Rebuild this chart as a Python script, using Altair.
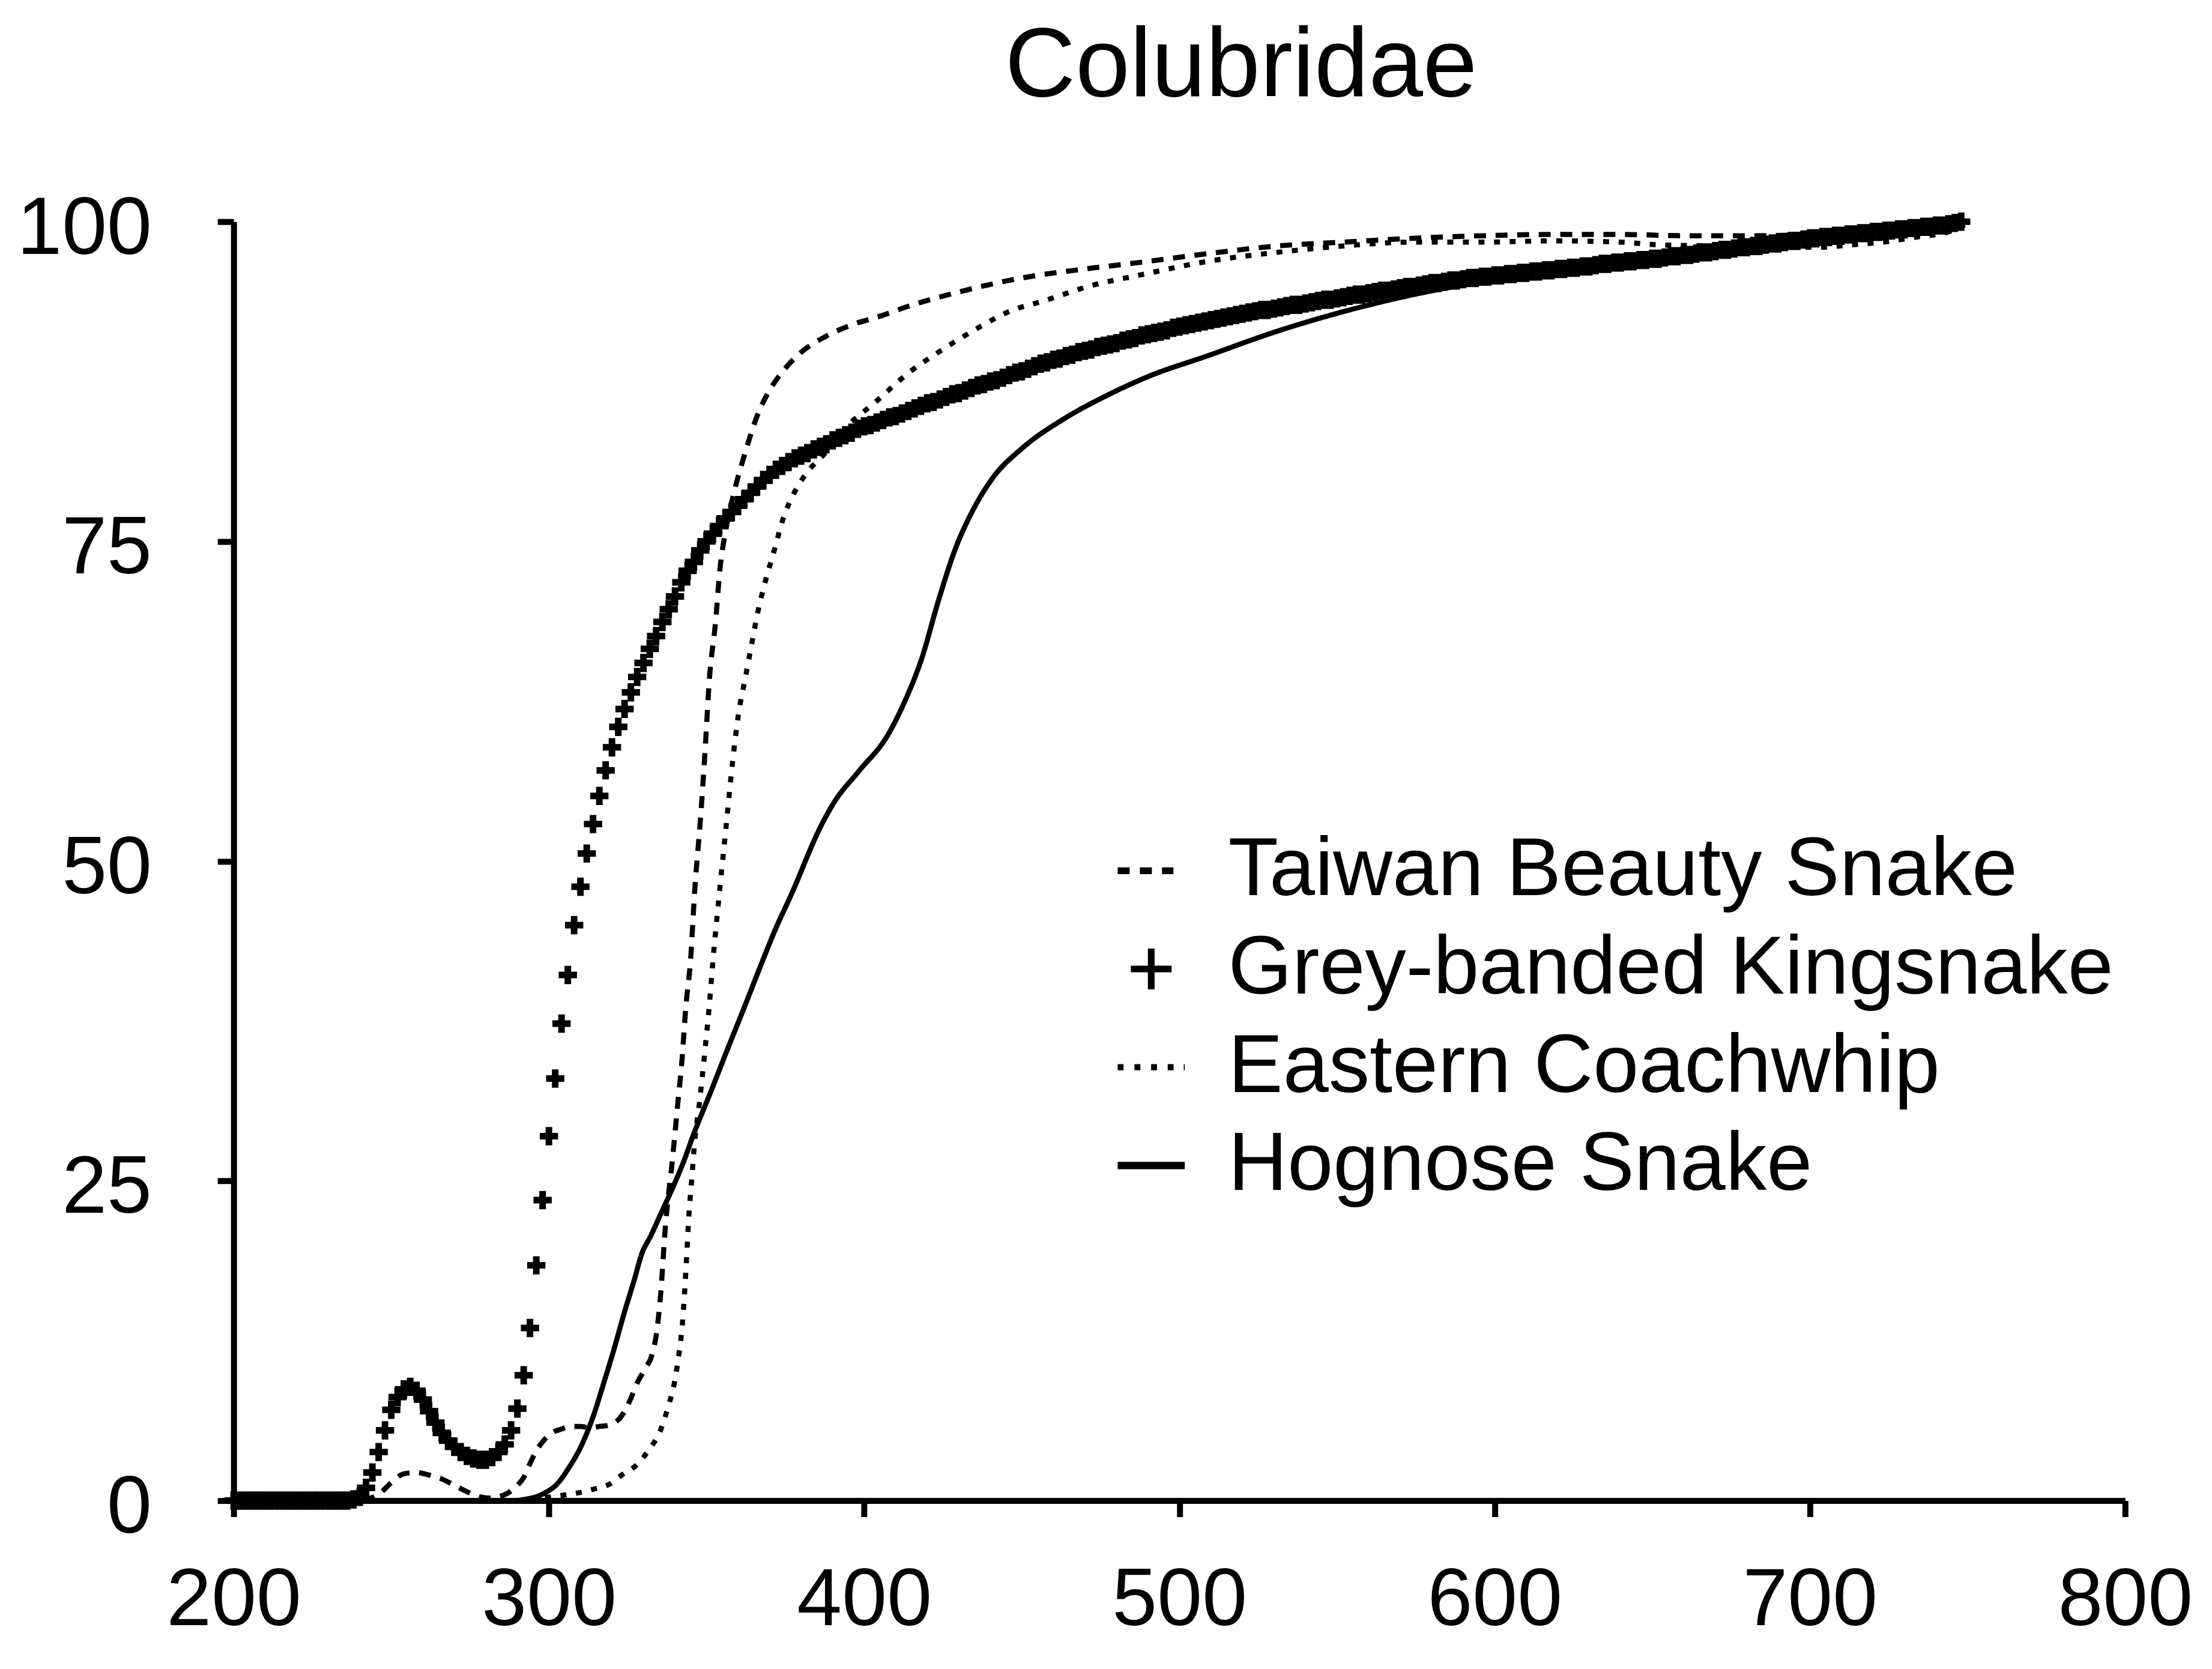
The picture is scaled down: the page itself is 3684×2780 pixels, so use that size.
import altair as alt
import pandas as pd

# ---------------- data ----------------
SERIES = ["Taiwan Beauty Snake", "Grey-banded Kingsnake", "Eastern Coachwhip", "Hognose Snake"]
LINE_SERIES = ["Taiwan Beauty Snake", "Eastern Coachwhip", "Hognose Snake"]

X_TICKS = [200, 300, 400, 500, 600, 700, 800]
Y_TICKS = [0, 25, 50, 75, 100]

TAIWAN_X = [200, 220, 238, 242, 246, 250, 254, 258, 262, 266,
            270, 274, 278, 281, 284, 287, 290, 292, 294, 296,
            298, 301, 304, 307, 310, 313, 316, 319, 323, 326,
            328, 330.5, 332.8, 334.2, 335.4, 337, 339.2, 340.9, 342.2, 343.4,
            345, 346.2, 348.2, 349.6, 350.9, 352.9, 354.2, 356.2, 358.9, 362.2,
            366.2, 370.2, 374.2, 379.6, 387.6, 396.9, 404.9, 414.2, 430, 450,
            470, 487, 509, 531, 552, 574, 596, 618, 640, 660,
            680, 700, 720, 735, 750]
TAIWAN_Y = [0, 0, 0, 0.1, 0.5, 1.4, 2.1, 2.2, 2.0, 1.7,
            1.2, 0.7, 0.3, 0.2, 0.3, 0.6, 1.2, 1.8, 2.9, 3.9,
            4.6, 5.3, 5.6, 5.8, 5.8, 5.7, 5.8, 5.9, 6.6, 8.0,
            9.2, 10.3, 11.5, 13.2, 16.0, 21.6, 26.7, 31.1, 34.4, 38.5,
            42.5, 47.5, 53.7, 58.9, 64.2, 68.8, 72.7, 76.0, 79.0, 81.9,
            84.9, 86.9, 88.3, 89.7, 91.0, 92.0, 92.6, 93.4, 94.5, 95.6,
            96.3, 96.8, 97.5, 98.1, 98.4, 98.7, 98.9, 99.0, 99.0, 98.9,
            98.9, 99.0, 99.3, 99.6, 100.0]

COACH_X = [200, 250, 290, 298, 303.9, 309, 314.2, 319.3, 323.1, 328.3,
           331.5, 335.4, 337.9, 339.8, 341.1, 342.4, 343.1, 343.7, 344.3, 345.2,
           346.3, 347.6, 349.5, 350.8, 352.1, 354.2, 356.2, 358.2, 360.2, 362.2,
           364.2, 366.2, 368.9, 371.6, 374.2, 377.6, 381.6, 387.6, 394.2, 403.6,
           414.2, 423.6, 436.9, 446.2, 456.9, 472, 487, 509, 531, 552,
           574, 596, 618, 640, 651, 670, 692, 703, 714, 723,
           734, 744, 749.5]
COACH_Y = [0, 0, 0, 0.2, 0.4, 0.6, 0.9, 1.3, 2.0, 2.9,
           3.9, 5.5, 7.4, 9.2, 11.2, 14.0, 16.5, 19.1, 21.9, 24.8,
           28.2, 30.8, 35.2, 38.5, 42.4, 47.8, 52.7, 57.6, 61.6, 64.2,
           66.8, 69.4, 72.1, 74.4, 76.7, 78.7, 80.3, 81.9, 83.9, 85.9,
           88.2, 89.8, 91.8, 93.0, 93.8, 95.0, 95.8, 96.9, 97.6, 98.1,
           98.4, 98.4, 98.5, 98.4, 98.2, 98.1, 98.0, 98.0, 98.2, 98.4,
           98.8, 99.2, 99.8]

HOG_X = [200, 250, 288, 292.3, 298.7, 302.6, 306.4, 310.3, 314.2, 317.4,
         320.6, 323.8, 327.0, 329.6, 332.1, 336.0, 338.6, 342.4, 346.3, 351.4,
         356.5, 361.7, 366.8, 371.9, 376.9, 386.2, 390.2, 398.2, 407.6, 412.9,
         418.2, 423.6, 428.9, 434.2, 440.9, 450.2, 463.5, 476.9, 490.2, 508.8,
         530.6, 552.5, 574.3, 596.1, 620, 650, 680, 710, 750]
HOG_Y = [0, 0, 0, 0.1, 0.6, 1.3, 2.6, 4.3, 6.7, 9.2,
         11.8, 14.6, 17.2, 19.4, 20.6, 22.7, 24.1, 26.3, 28.9, 32.0,
         35.2, 38.4, 41.6, 44.7, 47.4, 52.7, 54.5, 57.0, 59.9, 62.5,
         65.8, 70.4, 74.4, 77.3, 80.0, 82.3, 84.6, 86.4, 87.9, 89.5,
         91.4, 93.0, 94.3, 95.3, 96.1, 97.0, 97.8, 98.8, 100.0]

# Grey-banded Kingsnake: one marker every 2 nm from 200 to 748
KING_X = list(range(200, 750, 2))
KING_Y = [0, 0, 0, 0, 0, 0, 0, 0, 0, 0,
          0, 0, 0, 0, 0, 0, 0, 0, 0, 0.1,
          0.3, 1.0, 2.2, 3.8, 5.5, 7.1, 8.1, 8.7, 8.9, 8.6,
          7.9, 7.0, 6.1, 5.3, 4.7, 4.2, 3.8, 3.5, 3.3, 3.2,
          3.2, 3.4, 3.8, 4.4, 5.5, 7.2, 9.8, 13.5, 18.4, 23.5,
          28.5, 33.0, 37.3, 41.1, 45.0, 48.0, 50.6, 52.9, 55.1, 57.1,
          58.9, 60.5, 61.9, 63.2, 64.4, 65.5, 66.6, 67.6, 68.7, 69.7,
          70.7, 71.8, 72.7, 73.4, 74.3, 75.0, 75.6, 76.2, 76.8, 77.3,
          77.8, 78.3, 78.8, 79.3, 79.8, 80.2, 80.6, 80.9, 81.2, 81.5,
          81.7, 81.9, 82.2, 82.4, 82.6, 82.9, 83.1, 83.3, 83.5, 83.8,
          84.0, 84.1, 84.3, 84.5, 84.7, 84.8, 85.0, 85.2, 85.4, 85.6,
          85.8, 85.9, 86.1, 86.3, 86.5, 86.6, 86.8, 87.0, 87.2, 87.3,
          87.5, 87.6, 87.8, 88.0, 88.2, 88.3, 88.5, 88.7, 88.9, 89.0,
          89.2, 89.3, 89.5, 89.6, 89.8, 89.9, 90.0, 90.2, 90.3, 90.4,
          90.5, 90.7, 90.8, 90.9, 91.1, 91.2, 91.3, 91.4, 91.5, 91.7,
          91.8, 91.9, 92.0, 92.1, 92.2, 92.3, 92.4, 92.5, 92.6, 92.7,
          92.8, 92.9, 93.0, 93.1, 93.1, 93.2, 93.3, 93.4, 93.5, 93.5,
          93.6, 93.7, 93.8, 93.9, 93.9, 94.0, 94.1, 94.2, 94.3, 94.3,
          94.4, 94.5, 94.6, 94.6, 94.7, 94.8, 94.9, 94.9, 95.0, 95.1,
          95.2, 95.2, 95.3, 95.4, 95.4, 95.5, 95.6, 95.6, 95.7, 95.7,
          95.8, 95.8, 95.9, 95.9, 96.0, 96.0, 96.1, 96.1, 96.2, 96.2,
          96.3, 96.3, 96.4, 96.4, 96.5, 96.5, 96.6, 96.7, 96.7, 96.8,
          96.8, 96.9, 96.9, 97.0, 97.0, 97.1, 97.1, 97.2, 97.3, 97.3,
          97.4, 97.4, 97.5, 97.6, 97.6, 97.7, 97.8, 97.8, 97.9, 98.0,
          98.0, 98.1, 98.1, 98.2, 98.3, 98.3, 98.4, 98.5, 98.5, 98.6,
          98.7, 98.7, 98.8, 98.8, 98.9, 98.9, 99.0, 99.0, 99.1, 99.1,
          99.2, 99.2, 99.3, 99.3, 99.4, 99.4, 99.5, 99.5, 99.6, 99.6,
          99.7, 99.7, 99.8, 99.9, 100.0]
assert len(KING_X) == len(KING_Y)

# ---------------- symbols ----------------
PLUS_MARK = "M-1,-0.36H1V0.36H-1Z M-0.36,-1H0.36V1H-0.36Z"
LEG_DASH = "M-1,-0.1H-0.643V0.1H-1Z M-0.339,-0.1H0.018V0.1H-0.339Z M0.321,-0.1H0.661V0.1H0.321Z"
LEG_PLUS = "M-0.607,-0.1H0.607V0.1H-0.607Z M-0.1,-0.607H0.1V0.607H-0.1Z"
LEG_DOT = ("M-1,-0.092H-0.825V0.092H-1Z M-0.5,-0.092H-0.323V0.092H-0.5Z "
           "M-0.004,-0.092H0.171V0.092H-0.004Z M0.491,-0.092H0.666V0.092H0.491Z "
           "M0.97,-0.092H1V0.092H0.97Z")
LEG_SOLID = "M-1,-0.11H1V0.11H-1Z"

FONT = "Liberation Sans"

lines_df = pd.concat([
    pd.DataFrame({"x": TAIWAN_X, "y": TAIWAN_Y, "series": SERIES[0]}),
    pd.DataFrame({"x": COACH_X, "y": COACH_Y, "series": SERIES[2]}),
    pd.DataFrame({"x": HOG_X, "y": HOG_Y, "series": SERIES[3]}),
], ignore_index=True)
king_df = pd.DataFrame({"x": KING_X, "y": KING_Y})
legend_df = pd.DataFrame({"series": SERIES, "x": [KING_X[0]] * 4, "y": [KING_Y[0]] * 4})

x_scale = alt.Scale(domain=[200, 800], nice=False, zero=False)
y_scale = alt.Scale(domain=[0, 100], nice=False, zero=False)
x_axis = alt.Axis(values=X_TICKS, title=None, grid=False, labelPadding=73, labelFlush=False)
y_axis = alt.Axis(values=Y_TICKS, title=None, grid=False, labelPadding=110, labelFlush=False,
                  labelOffset=12)

lines = alt.Chart(lines_df).mark_line(color="black", strokeWidth=8.5, interpolate="monotone").encode(
    x=alt.X("x:Q", scale=x_scale, axis=x_axis),
    y=alt.Y("y:Q", scale=y_scale, axis=y_axis),
    strokeDash=alt.StrokeDash("series:N",
                              scale=alt.Scale(domain=LINE_SERIES, range=[[20, 16], [10, 16], [1, 0]]),
                              legend=None),
)

king = alt.Chart(king_df).mark_point(shape=PLUS_MARK, filled=True, color="black", opacity=1,
                                     size=930, strokeWidth=0).encode(
    x=alt.X("x:Q", scale=x_scale),
    y=alt.Y("y:Q", scale=y_scale),
)

legend_layer = alt.Chart(legend_df).mark_point(filled=True, color="black", opacity=1, strokeWidth=0).encode(
    x=alt.X("x:Q", scale=x_scale),
    y=alt.Y("y:Q", scale=y_scale),
    shape=alt.Shape("series:N",
                    scale=alt.Scale(domain=SERIES, range=[LEG_DASH, LEG_PLUS, LEG_DOT, LEG_SOLID]),
                    legend=alt.Legend(orient="none", legendX=1463, legendY=1015, title=None,
                                      labelFont=FONT, labelFontSize=137, labelColor="black",
                                      labelLimit=4000, labelOffset=60, symbolSize=12544,
                                      symbolStrokeWidth=0, symbolFillColor="black",
                                      symbolOffset=0, rowPadding=26, padding=0)),
)

chart = alt.layer(lines, king, legend_layer).properties(
    width=3157,
    height=2135,
    autosize=alt.AutoSizeParams(type="none"),
    padding={"left": 382, "top": 359, "right": 137, "bottom": 278},
    title=alt.TitleParams(text="Colubridae", font=FONT, fontSize=163, fontWeight="normal",
                          color="black", anchor="middle", frame="group", dx=103,
                          baseline="alphabetic", offset=0, dy=8),
).configure_view(
    strokeWidth=0
).configure_axis(
    domainColor="black", domainWidth=10, tickColor="black", tickWidth=10, tickSize=27,
    labelFont=FONT, labelFontSize=135, labelColor="black", labelLimit=3000
)

chart.save("out.html", embed_options={"renderer": "svg", "actions": False})
